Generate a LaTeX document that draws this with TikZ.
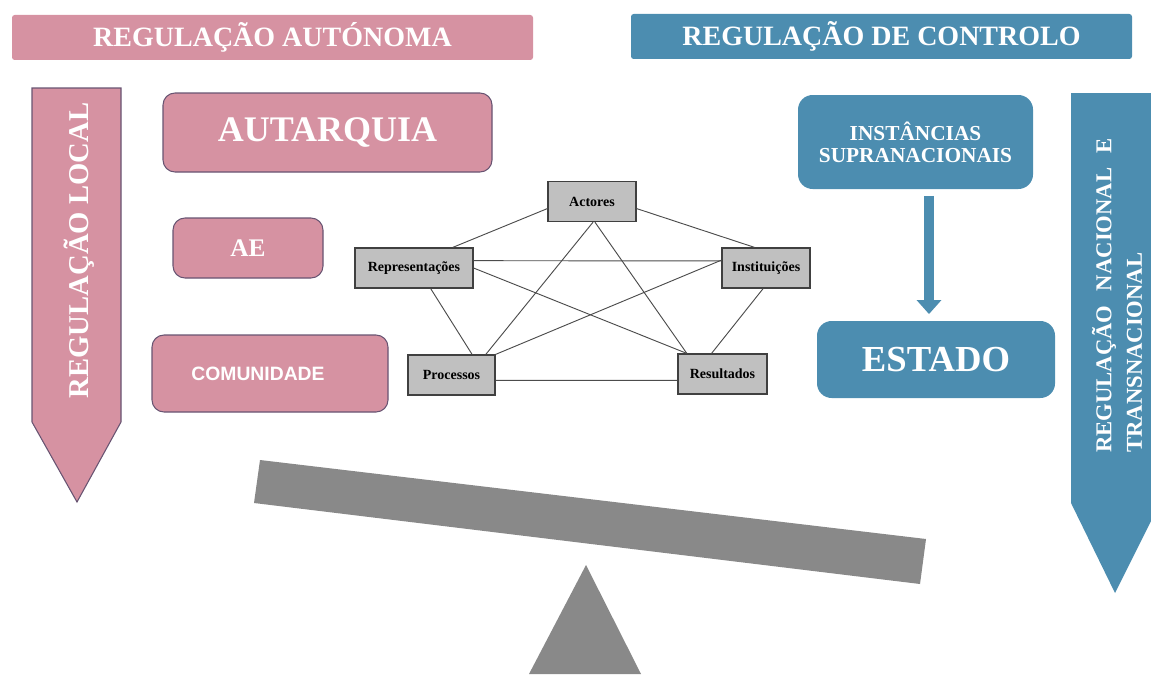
\documentclass[tikz,border=0pt]{standalone}
\usepackage{fontspec}
\setmainfont{Liberation Serif}
\newfontfamily\sansbold{Liberation Sans}
\usetikzlibrary{arrows.meta}
\definecolor{rosa}{RGB}{214,146,162}
\definecolor{rosaline}{RGB}{104,84,114}
\definecolor{azul}{RGB}{76,141,176}
\definecolor{cinza}{RGB}{137,137,137}
\definecolor{caixa}{RGB}{192,192,192}
\tikzset{
  barra/.style={rounded corners=2pt, minimum height=33.75pt, text=white,
    font=\bfseries\fontsize{21}{24}\selectfont},
  caixarosa/.style={fill=rosa, draw=rosaline, line width=0.8pt, rounded corners=9pt, text=white},
  caixaazul/.style={fill=azul, rounded corners=11pt, text=white},
  rede/.style={fill=caixa, draw=black!75, line width=0.9pt, minimum height=30pt,
    font=\bfseries\fontsize{10.5}{12}\selectfont},
}
\begin{document}
\begin{tikzpicture}[x=0.75pt, y=-0.75pt]
  \useasboundingbox (0,0) rectangle (1151,674);
  % Top bars
  \node[barra, fill=rosa, minimum width=390.75pt] (autonoma) at (272.5,37.5) {REGULAÇÃO AUTÓNOMA};
  \node[barra, fill=azul, minimum width=375.75pt] (controlo) at (881.5,36.5) {REGULAÇÃO DE CONTROLO};
  % Side arrows
  \draw[fill=rosa, draw=rosaline, line width=0.8pt] (32,88) -- (121,88) -- (121,422) -- (77,502) -- (32,422) -- cycle;
  \node[rotate=90, text=white, font=\bfseries\fontsize{21.5}{24}\selectfont] (local) at (79,250.5) {REGULAÇÃO LOCAL};
  \fill[azul] (1071,93) -- (1160,93) -- (1160,503) -- (1115,593) -- (1071,503) -- cycle;
  \node[rotate=90, anchor=west, inner sep=0pt, align=left, text=white,
    font=\bfseries\fontsize{17}{23}\selectfont] (nacional) at (1117,453)
    {\makebox[236pt][s]{REGULAÇÃO NACIONAL E}\\TRANSNACIONAL};
  % Local boxes
  \node[caixarosa, minimum width=246.75pt, minimum height=59.25pt,
    font=\bfseries\fontsize{27}{30}\selectfont] (autarquia) at (327.5,132.5) {AUTARQUIA};
  \node[caixarosa, minimum width=112.5pt, minimum height=45pt,
    font=\bfseries\fontsize{19}{22}\selectfont] (ae) at (248,248) {AE};
  \node[caixarosa, minimum width=177pt, minimum height=57.75pt,
    font=\sansbold\bfseries\fontsize{14.5}{17}\selectfont] (comunidade) at (270,373.5) {COMUNIDADE\hspace*{18pt}};
  % Control boxes
  \node[caixaazul, minimum width=176.25pt, minimum height=70.5pt, align=center,
    font=\bfseries\fontsize{16}{16.5}\selectfont] (instancias) at (915.5,142) {INSTÂNCIAS\\SUPRANACIONAIS};
  \node[caixaazul, minimum width=178.5pt, minimum height=57.75pt,
    font=\bfseries\fontsize{27.5}{30}\selectfont] (estado) at (936,359.5) {ESTADO};
  \coordinate (seta) at (929,0);
  \draw[azul, line width=7.5pt, -{Triangle[width=18pt,length=10.5pt]}, shorten <=5pt, shorten >=5pt]
    (instancias.south -| seta) -- (estado.north -| seta);
  % Network
  \node[rede, minimum width=66pt] (actores) at (592,201.5) {Actores};
  \node[rede, minimum width=88.5pt] (representacoes) at (414,268) {Representações};
  \node[rede, minimum width=66pt] (instituicoes) at (766,268) {Instituições};
  \node[rede, minimum width=65.25pt] (processos) at (451.5,375) {Processos};
  \node[rede, minimum width=66.75pt] (resultados) at (722.5,374) {Resultados};
  \foreach \a/\b in {actores.189/representacoes.28, actores.351/instituicoes.119,
      actores.-87/processos.31, actores.-82/resultados.150,
      representacoes.7/instituicoes.171, representacoes.east/resultados.150,
      representacoes.-51/processos.45, instituicoes.170/processos.north east,
      instituicoes.-98/resultados.118, processos.-7.5/resultados.188.6}
    \draw[black!70, line width=0.7pt] (\a) -- (\b);
  % Draw beam and fulcrum
  \fill[cinza] (260,460) -- (926,539) -- (920,584) -- (254,503) -- cycle;
  \fill[cinza] (586,565) -- (641,674) -- (529,674) -- cycle;
\end{tikzpicture}
\end{document}
